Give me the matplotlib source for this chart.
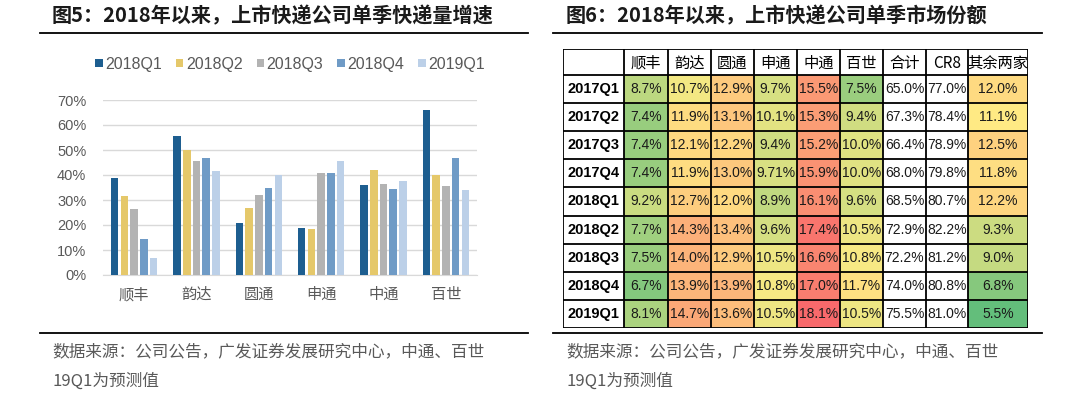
import numpy as np
import matplotlib
matplotlib.use('Agg')
import matplotlib.pyplot as plt
from matplotlib.colors import LinearSegmentedColormap, TwoSlopeNorm
from matplotlib.patches import Rectangle

plt.rcParams['font.family'] = ['Liberation Sans', 'Noto Sans CJK SC', 'DejaVu Sans']

# 图5 数据
companies = ['顺丰', '韵达', '圆通', '申通', '中通', '百世']
quarters = ['2018Q1', '2018Q2', '2018Q3', '2018Q4', '2019Q1']
q1_18 = [39.0, 55.5, 21.0, 19.0, 36.0, 66.0]
q2_18 = [31.5, 50.0, 27.0, 18.5, 42.0, 40.0]
q3_18 = [26.5, 45.5, 32.0, 41.0, 36.5, 35.5]
q4_18 = [14.5, 47.0, 35.0, 41.0, 34.5, 47.0]
q1_19 = [7.0, 41.5, 40.0, 45.5, 37.5, 34.0]
growth = [q1_18, q2_18, q3_18, q4_18, q1_19]
bar_colors = ['#1D5E90', '#E5C86A', '#B3B3B3', '#6F9BC6', '#BCD0E8']

# 图6 数据
col_names = ['顺丰', '韵达', '圆通', '申通', '中通', '百世', '合计', 'CR8', '其余两家']
row_names = ['2017Q1', '2017Q2', '2017Q3', '2017Q4', '2018Q1', '2018Q2', '2018Q3', '2018Q4', '2019Q1']
share_sf = [8.7, 7.4, 7.4, 7.4, 9.2, 7.7, 7.5, 6.7, 8.1]
share_yd = [10.7, 11.9, 12.1, 11.9, 12.7, 14.3, 14.0, 13.9, 14.7]
share_yt = [12.9, 13.1, 12.2, 13.0, 12.0, 13.4, 12.9, 13.9, 13.6]
share_st = [9.7, 10.1, 9.4, 9.71, 8.9, 9.6, 10.5, 10.8, 10.5]
share_zt = [15.5, 15.3, 15.2, 15.9, 16.1, 17.4, 16.6, 17.0, 18.1]
share_bs = [7.5, 9.4, 10.0, 10.0, 9.6, 10.5, 10.8, 11.7, 10.5]
share_sum = [65.0, 67.3, 66.4, 68.0, 68.5, 72.9, 72.2, 74.0, 75.5]
share_cr8 = [77.0, 78.4, 78.9, 79.8, 80.7, 82.2, 81.2, 80.8, 81.0]
share_rest = [12.0, 11.1, 12.5, 11.8, 12.2, 9.3, 9.0, 6.8, 5.5]
share_cols = [share_sf, share_yd, share_yt, share_st, share_zt, share_bs, share_sum, share_cr8, share_rest]
colored = [True, True, True, True, True, True, False, False, True]

W, H = 1080, 396
fig = plt.figure(figsize=(W / 100, H / 100), dpi=100)

def fx(px):
    return px / W

def fy(py):
    return 1 - py / H

kai = ['Noto Sans CJK SC', 'DejaVu Sans']
gray_txt = '#595959'

# ---------- 标题和分隔线 ----------
fig.text(fx(52), fy(16), '图5：2018年以来，上市快递公司单季快递量增速', fontsize=14.5,
         fontweight='bold', family=kai, va='center', ha='left', color='#1a1a1a')
fig.text(fx(566), fy(16), '图6：2018年以来，上市快递公司单季市场份额', fontsize=14.5,
         fontweight='bold', family=kai, va='center', ha='left', color='#1a1a1a')
for x0, x1 in [(40, 528), (553, 1042)]:
    fig.add_artist(plt.Line2D([fx(x0), fx(x1)], [fy(33), fy(33)], color='black', lw=1.3))
    fig.add_artist(plt.Line2D([fx(x0), fx(x1)], [fy(333), fy(333)], color='black', lw=1.3))
for x0 in [52, 566]:
    fig.text(fx(x0), fy(352), '数据来源：公司公告，广发证券发展研究中心，中通、百世', fontsize=12,
             family=kai, va='center', ha='left', color=gray_txt)
    fig.text(fx(x0), fy(381), '19Q1为预测值', fontsize=12,
             family=kai, va='center', ha='left', color=gray_txt)

# ---------- 左图：柱状图 ----------
ax = fig.add_axes([fx(103), fy(275), fx(477) - fx(103), (275 - 100) / H])
x = np.arange(len(companies))
bw = 0.12
step = 0.156
for i, (vals, c) in enumerate(zip(growth, bar_colors)):
    ax.bar(x + (i - 2) * step, vals, width=bw, color=c, label=quarters[i], zorder=3)
ax.set_xlim(-0.5, len(companies) - 0.5)
ax.set_ylim(0, 70)
ax.set_yticks(np.arange(0, 71, 10))
ax.set_yticklabels([f'{v}%' for v in range(0, 71, 10)], fontsize=10.5, color=gray_txt)
ax.set_xticks(x)
ax.set_xticklabels(companies, family=kai, fontsize=11, color=gray_txt)
ax.tick_params(axis='both', length=0)
ax.tick_params(axis='x', pad=8)
ax.tick_params(axis='y', pad=12)
ax.grid(axis='y', color='#D9D9D9', lw=1, zorder=0)
for s in ['top', 'right', 'left']:
    ax.spines[s].set_visible(False)
ax.spines['bottom'].set_color('#D9D9D9')
leg = ax.legend(loc='center', bbox_to_anchor=(0.5, (275 - 64) / 175), ncol=5, frameon=False,
                fontsize=11.5, handlelength=0.45, handleheight=0.45, handletextpad=0.15,
                columnspacing=0.9)
for t in leg.get_texts():
    t.set_color(gray_txt)

# ---------- 右图：条件格式表格 ----------
col_w = [61, 44, 43, 43, 43, 43, 43, 43, 42, 60]
row_h = [26] + [28.1] * len(row_names)
col_edges = np.concatenate([[0], np.cumsum(col_w)])
row_edges = np.concatenate([[0], np.cumsum(row_h)])
tx0, ty0 = 563, 49
tw, th = col_edges[-1], row_edges[-1]
at = fig.add_axes([fx(tx0), fy(ty0 + th), tw / W, th / H])
at.set_xlim(0, tw)
at.set_ylim(th, 0)
at.axis('off')

cvals = np.array([v for c, f in zip(share_cols, colored) if f for v in c])
cmap = LinearSegmentedColormap.from_list('gyr', ['#63BE7B', '#FFEB84', '#F8696B'])
norm = TwoSlopeNorm(vmin=cvals.min(), vcenter=np.median(cvals), vmax=cvals.max())

for j, name in enumerate(col_names):
    cx = (col_edges[j + 1] + col_edges[j + 2]) / 2
    at.text(cx, row_h[0] / 2 + 1, name, ha='center', va='center', family=kai,
            fontsize=11, color='black')
for i, rn in enumerate(row_names):
    cy = (row_edges[i + 1] + row_edges[i + 2]) / 2
    at.text(col_w[0] / 2, cy, rn, ha='center', va='center',
            fontsize=10.5, fontweight='bold', color='black')
    for j, col in enumerate(share_cols):
        v = col[i]
        fc = cmap(norm(v)) if colored[j] else 'white'
        at.add_patch(Rectangle((col_edges[j + 1], row_edges[i + 1]), col_w[j + 1], row_h[i + 1],
                               facecolor=fc, edgecolor='none', zorder=1))
        lab = f'{v:.2f}%' if v == 9.71 else f'{v:.1f}%'
        at.text((col_edges[j + 1] + col_edges[j + 2]) / 2, (row_edges[i + 1] + row_edges[i + 2]) / 2,
                lab, ha='center', va='center', fontsize=10, color='#1a1a1a', zorder=3)
for xe in col_edges:
    at.plot([xe, xe], [0, th], color='black', lw=1.3, zorder=4, solid_capstyle='projecting')
for ye in row_edges:
    at.plot([0, tw], [ye, ye], color='black', lw=1.3, zorder=4, solid_capstyle='projecting')

fig.savefig('out.png', dpi=100)
